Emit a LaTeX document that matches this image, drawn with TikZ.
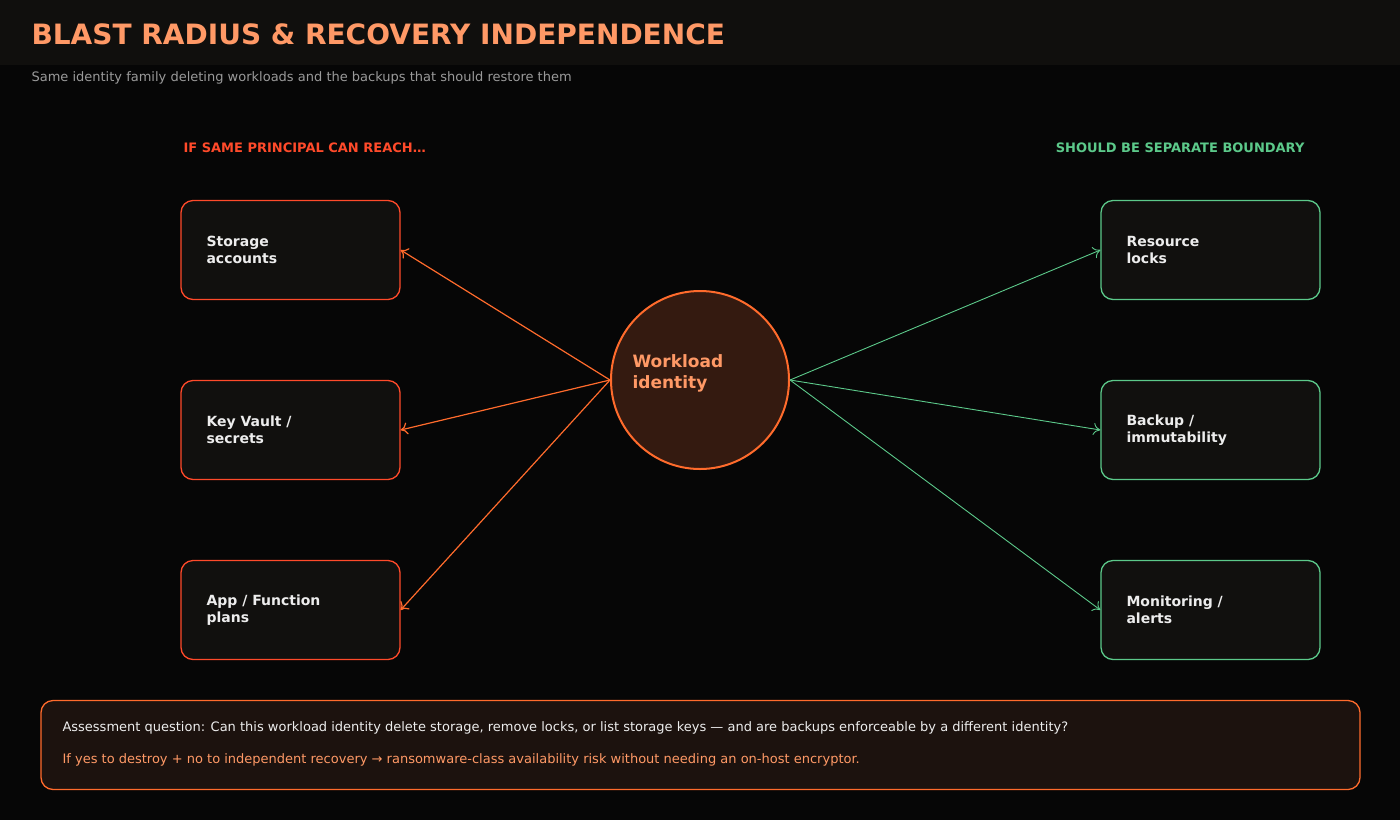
\documentclass[tikz,border=0pt]{standalone}
\usepackage{fontspec}
\setmainfont{DejaVu Sans}
\usetikzlibrary{arrows.meta}
\definecolor{bg}{HTML}{060606}
\definecolor{band}{HTML}{100F0D}
\definecolor{title}{HTML}{FF9966}
\definecolor{sub}{HTML}{9A9A9A}
\definecolor{redl}{HTML}{FF4A2A}
\definecolor{grn}{HTML}{5CC98A}
\definecolor{boxf}{HTML}{11100E}
\definecolor{org}{HTML}{FF6B2C}
\definecolor{circf}{HTML}{341A10}
\definecolor{botf}{HTML}{1C120E}
\definecolor{txt}{HTML}{EDEDED}
\begin{document}
\begin{tikzpicture}[x=1pt,y=-1pt,
  box/.style={draw,line width=1.3pt,fill=boxf,rounded corners=12pt,minimum width=219pt,minimum height=99pt,inner sep=0pt},
  lbl/.style={text=txt,font=\bfseries\fontsize{14}{17}\selectfont,align=left,anchor=west},
  la/.style={draw=org,line width=1.2pt,-{To[length=7pt,width=12pt]}},
  ra/.style={draw=grn,line width=0.9pt,-{To[length=7pt,width=12pt]}}]
\useasboundingbox (0,0) rectangle (1400,820);
\fill[bg] (0,0) rectangle (1400,820);
\fill[band] (0,0) rectangle (1400,65);
\node[anchor=west,text=title,font=\bfseries\fontsize{28}{32}\selectfont] (t) at (28,34) {BLAST RADIUS \& RECOVERY INDEPENDENCE};
\node[anchor=west,text=sub,font=\fontsize{13}{15}\selectfont] (s) at (28,78) {Same identity family deleting workloads and the backups that should restore them};
\node[anchor=west,text=redl,font=\bfseries\fontsize{13}{15}\selectfont] (hl) at (180,148) {IF SAME PRINCIPAL CAN REACH…};
\node[anchor=east,text=grn,font=\bfseries\fontsize{13}{15}\selectfont] (hr) at (1308,148) {SHOULD BE SEPARATE BOUNDARY};
\foreach \n/\y/\t in {a/250/{Storage\\accounts},b/430/{Key Vault /\\secrets},c/610/{App / Function\\plans}}{
  \node[box,draw=redl] (\n) at (290.5,\y) {};
  \node[lbl] (\n t) at (203,\y) {\t};
}
\foreach \n/\y/\t in {d/250/{Resource\\locks},e/430/{Backup /\\immutability},f/610/{Monitoring /\\alerts}}{
  \node[box,draw=grn] (\n) at (1210.5,\y) {};
  \node[lbl] (\n t) at (1123,\y) {\t};
}
\node[circle,draw=org,line width=2pt,fill=circf,minimum size=178pt,inner sep=0pt] (w) at (700,380) {};
\node[anchor=west,text=title,font=\bfseries\fontsize{17}{21}\selectfont,align=left] (wt) at (629,373) {Workload\\identity};
\draw[la] (w.west) -- (a.east);
\draw[la] (w.west) -- (b.east);
\draw[la] (w.west) -- (c.east);
\draw[ra] (w.east) -- (d.west);
\draw[ra] (w.east) -- (e.west);
\draw[ra] (w.east) -- (f.west);
\node[draw=org,line width=1.3pt,fill=botf,rounded corners=12pt,minimum width=1319pt,minimum height=89pt] (q) at (700.5,745) {};
\node[anchor=west,text=txt,font=\fontsize{13}{15}\selectfont] (q1) at (59,728) {Assessment question: Can this workload identity delete storage, remove locks, or list storage keys — and are backups enforceable by a different identity?};
\node[anchor=west,text=title,font=\fontsize{13}{15}\selectfont] (q2) at (59,760) {If yes to destroy + no to independent recovery → ransomware-class availability risk without needing an on-host encryptor.};
\end{tikzpicture}
\end{document}
